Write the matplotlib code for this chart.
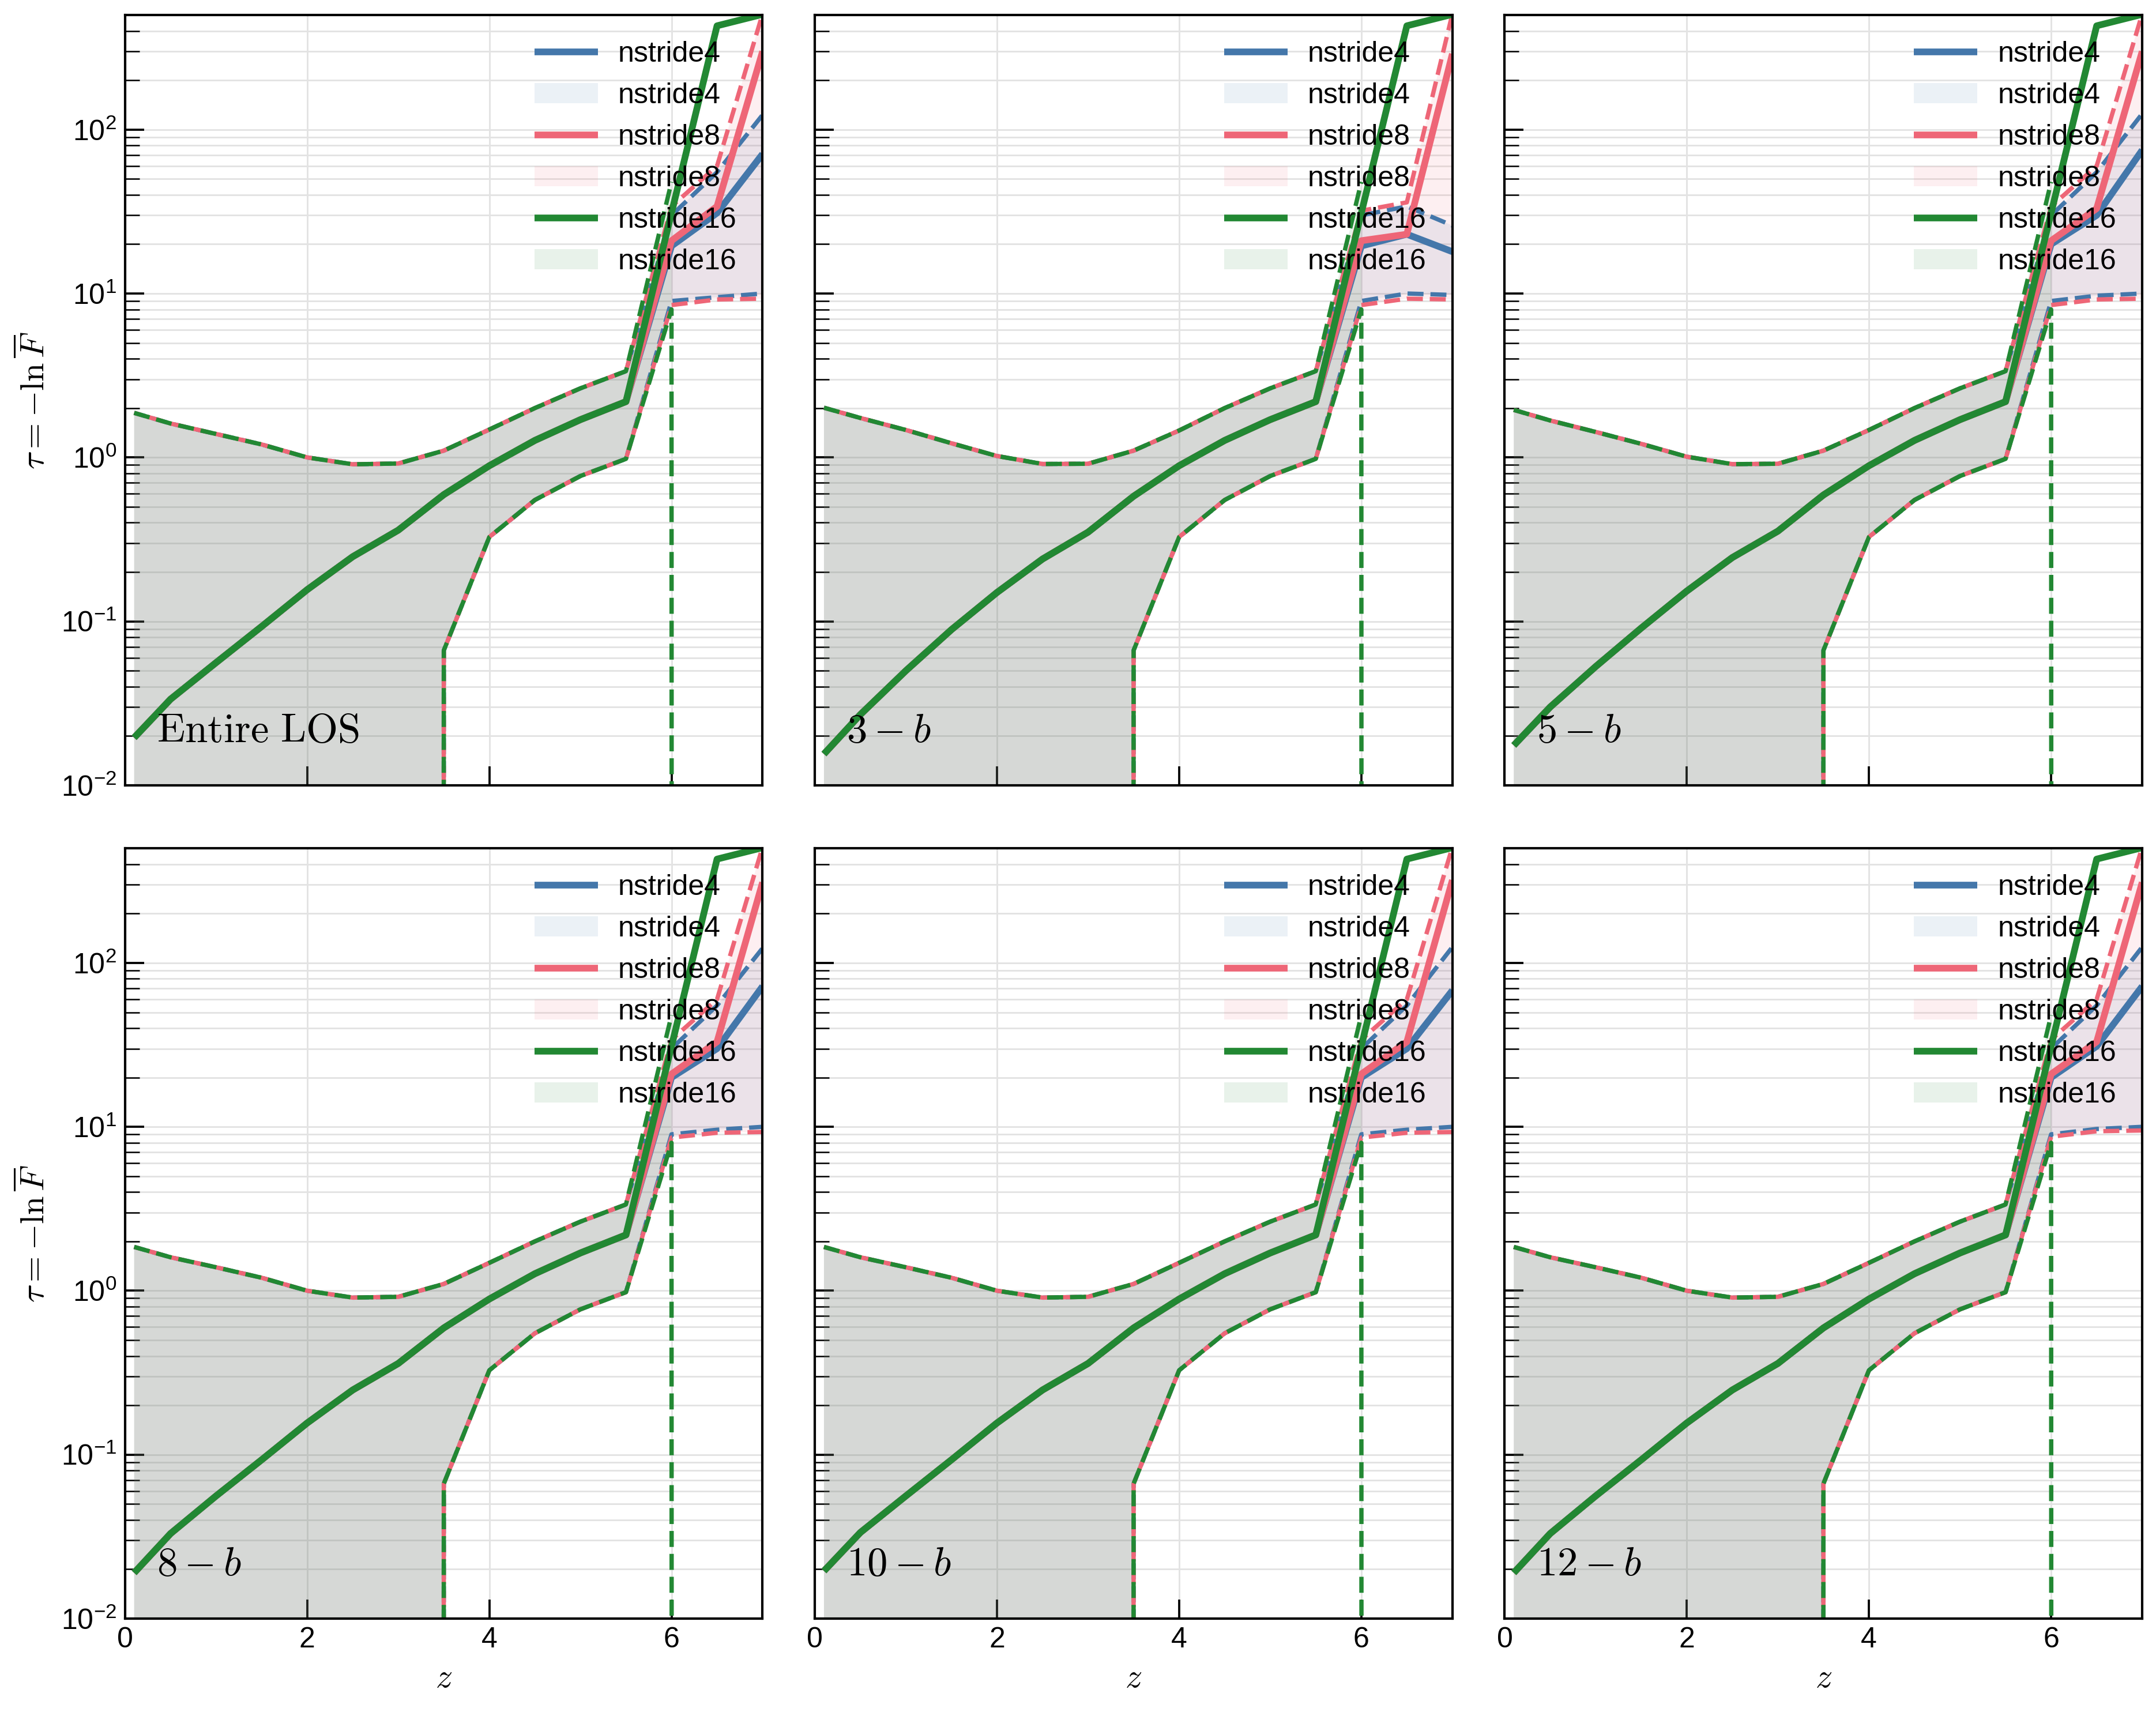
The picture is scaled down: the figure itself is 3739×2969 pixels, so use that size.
import numpy as np
import matplotlib
matplotlib.use('Agg')
import matplotlib.pyplot as plt

plt.rcParams['font.family'] = ['Liberation Sans', 'DejaVu Sans']
plt.rcParams['mathtext.fontset'] = 'cm'

# ---------------- data ----------------
z = [0.1, 0.5, 1.0, 1.5, 2.0, 2.5, 3.0, 3.5, 4.0, 4.5, 5.0, 5.5, 6.0, 6.5, 7.0]
series_names = ['nstride4', 'nstride8', 'nstride16']
series_colors = ['#4477AA', '#EE6677', '#228833']
panel_labels = [r'$\mathrm{Entire\ LOS}$', r'$3-b$', r'$5-b$', r'$8-b$', r'$10-b$', r'$12-b$']
z_ticks = [0, 2, 4, 6]

# shared part (z = 0.1 ... 5.5), identical for all nstride values; one row per panel
med_low = [
    [0.0195, 0.0335, 0.056, 0.093, 0.156, 0.248, 0.36, 0.593, 0.89, 1.27, 1.70, 2.19],
    [0.0155, 0.027, 0.050, 0.089, 0.150, 0.240, 0.35, 0.580, 0.89, 1.27, 1.70, 2.19],
    [0.0175, 0.030, 0.053, 0.091, 0.153, 0.245, 0.355, 0.590, 0.89, 1.27, 1.70, 2.19],
    [0.019, 0.033, 0.056, 0.093, 0.156, 0.248, 0.36, 0.593, 0.89, 1.27, 1.70, 2.19],
    [0.0195, 0.0335, 0.056, 0.093, 0.156, 0.248, 0.36, 0.593, 0.89, 1.27, 1.70, 2.19],
    [0.019, 0.033, 0.056, 0.093, 0.156, 0.248, 0.36, 0.593, 0.89, 1.27, 1.70, 2.19],
]
hi_low = [
    [1.87, 1.61, 1.39, 1.20, 1.00, 0.908, 0.918, 1.10, 1.48, 2.0, 2.64, 3.36],
    [2.01, 1.74, 1.47, 1.22, 1.02, 0.912, 0.915, 1.10, 1.46, 2.0, 2.64, 3.36],
    [1.95, 1.68, 1.43, 1.21, 1.01, 0.910, 0.915, 1.10, 1.47, 2.0, 2.64, 3.36],
    [1.85, 1.60, 1.39, 1.20, 1.00, 0.908, 0.918, 1.10, 1.48, 2.0, 2.64, 3.36],
    [1.85, 1.60, 1.39, 1.20, 1.00, 0.908, 0.918, 1.10, 1.48, 2.0, 2.64, 3.36],
    [1.85, 1.60, 1.39, 1.20, 1.00, 0.908, 0.918, 1.10, 1.48, 2.0, 2.64, 3.36],
]
lo_low = [0, 0, 0, 0, 0, 0, 0, 0.0665, 0.327, 0.55, 0.77, 0.98]

# high-z part (z = 6.0, 6.5, 7.0); rows = panels
n4_med = [[19.5, 31, 71], [19.5, 23, 18], [20, 30, 75], [20, 30, 72], [20, 30, 68], [20, 31, 72]]
n4_lo = [[9.0, 9.5, 10.0], [9.0, 10.0, 9.8], [9.0, 9.7, 10.0], [9.0, 9.6, 10.0], [9.0, 9.6, 10.0], [9.0, 9.7, 10.0]]
n4_hi = [[30, 55, 123], [30, 34, 26], [30, 55, 125], [30, 55, 123], [30, 55, 125], [30, 55, 125]]
n8_med = [[21, 34, 300], [21, 23, 290], [21, 33, 300], [21, 33, 310], [21, 33, 320], [21, 33, 310]]
n8_lo = [[8.5, 9.2, 9.3], [8.5, 9.3, 9.2], [8.5, 9.2, 9.3], [8.6, 9.2, 9.3], [8.6, 9.2, 9.3], [8.7, 9.4, 9.5]]
n8_hi = [[34, 60, 510], [32, 36, 510], [34, 60, 510], [34, 60, 510], [34, 60, 510], [34, 60, 510]]
n16_med = [[31, 430, 505], [31, 430, 505], [31, 430, 505], [31, 430, 505], [31, 430, 505], [31, 430, 505]]
n16_lo = [[8.0, 0, 0]] * 6
n16_hi = [[48, np.nan, np.nan]] * 6

tails_med = [n4_med, n8_med, n16_med]
tails_lo = [n4_lo, n8_lo, n16_lo]
tails_hi = [n4_hi, n8_hi, n16_hi]

dash_offsets = [1.0, 2.1, 0.0]

# ---------------- figure ----------------
fig, axes = plt.subplots(2, 3, figsize=(3739 / 300, 2969 / 300), dpi=300,
                         sharex=True, sharey=True)
fig.subplots_adjust(left=0.058, right=0.9936, top=0.9912, bottom=0.0546,
                    wspace=0.082, hspace=0.082)

for p, ax in enumerate(axes.flat):
    ax.set_axisbelow(True)
    for j, (name, col) in enumerate(zip(series_names, series_colors)):
        med = med_low[p] + tails_med[j][p]
        lo = lo_low + tails_lo[j][p]
        hi = hi_low[p] + tails_hi[j][p]
        ax.plot(z, med, color=col, lw=2.8, label=name, solid_capstyle='butt')
        ax.fill_between(z, lo, hi, color=col, alpha=0.1, lw=0, label=name)
        ls = (dash_offsets[j], (3.7, 1.6))
        ax.plot(z, lo, color=col, lw=1.8, linestyle=ls)
        ax.plot(z, hi, color=col, lw=1.8, linestyle=ls)

    ax.set_yscale('log')
    ax.set_xlim(0, 7)
    ax.set_ylim(1e-2, 5e2)
    ax.set_xticks(z_ticks)
    ax.grid(True, which='both', axis='y', color='0.89', lw=0.7)
    ax.grid(True, which='major', axis='x', color='0.89', lw=0.7)
    ax.tick_params(which='major', direction='in', length=8, width=0.9, labelsize=12)
    ax.tick_params(which='minor', direction='in', length=6, width=0.6)
    for s in ax.spines.values():
        s.set_linewidth(1.0)
    ax.text(0.05, 0.045, panel_labels[p], transform=ax.transAxes,
            fontsize=17, ha='left', va='bottom')
    ax.legend(loc='upper right', frameon=False, fontsize=12, labelspacing=0.52,
              handlelength=2.2, handletextpad=0.7)

for ax in axes[:, 0]:
    ax.set_ylabel(r'$\tau = -\ln\overline{F}$', fontsize=14)
for ax in axes[1, :]:
    ax.set_xlabel(r'$z$', fontsize=14)

fig.savefig('out.png', dpi=300)
